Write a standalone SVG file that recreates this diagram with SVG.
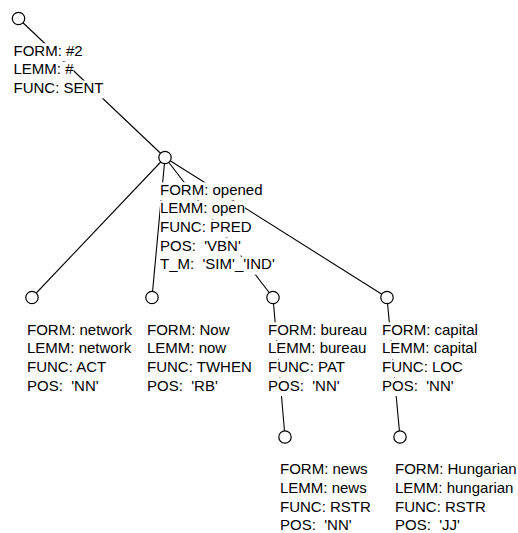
<svg xmlns="http://www.w3.org/2000/svg" width="518" height="533" viewBox="0 0 518 533">
<style>
.bg{fill:#fff;stroke:none}
.t{font-family:"Liberation Sans",Arial,Helvetica,sans-serif;font-size:15px;fill:#000;white-space:pre}
.n{fill:#fff;stroke:#000;stroke-width:1.2}
.e{stroke:#000;stroke-width:1.1;fill:none}
</style>
<rect width="518" height="533" fill="#fff"/>
<g id="connectors">
<line class="e" x1="18.5" y1="18.5" x2="165" y2="157.5"/>
<line class="e" x1="165" y1="157.5" x2="32" y2="297.5"/>
<line class="e" x1="165" y1="157.5" x2="152" y2="297.5"/>
<line class="e" x1="165" y1="157.5" x2="273" y2="297.5"/>
<line class="e" x1="165" y1="157.5" x2="387" y2="297.5"/>
<line class="e" x1="273" y1="297.5" x2="285" y2="437"/>
<line class="e" x1="387" y1="297.5" x2="400" y2="437"/>
</g>
<g id="node-root">
<rect class="bg" x="13.5" y="43.3" width="69.2" height="18"/>
<rect class="bg" x="13.5" y="61.9" width="60" height="18"/>
<rect class="bg" x="13.5" y="80.5" width="90" height="18"/>
<text class="t" x="13.5" y="55.8">FORM: #2</text>
<text class="t" x="13.5" y="74.4">LEMM: #</text>
<text class="t" x="13.5" y="93">FUNC: SENT</text>
<circle class="n" cx="18.5" cy="18.5" r="6.2"/>
</g>
<g id="node-opened">
<rect class="bg" x="160" y="182.3" width="102.5" height="18"/>
<rect class="bg" x="160" y="200.9" width="85" height="18"/>
<rect class="bg" x="160" y="219.5" width="91.7" height="18"/>
<rect class="bg" x="160" y="238.1" width="80.8" height="18"/>
<rect class="bg" x="160" y="256.7" width="114.8" height="18"/>
<text class="t" x="160" y="194.8">FORM: opened</text>
<text class="t" x="160" y="213.4">LEMM: open</text>
<text class="t" x="160" y="232">FUNC: PRED</text>
<text class="t" x="160" y="250.6">POS:  'VBN'</text>
<text class="t" x="160" y="269.2">T_M:  'SIM'_'IND'</text>
<circle class="n" cx="165" cy="157.5" r="6.2"/>
</g>
<g id="node-network">
<rect class="bg" x="27" y="322.3" width="105" height="18"/>
<rect class="bg" x="27" y="340.9" width="104.2" height="18"/>
<rect class="bg" x="27" y="359.5" width="80" height="18"/>
<rect class="bg" x="27" y="378.1" width="71.6" height="18"/>
<text class="t" x="27" y="334.8">FORM: network</text>
<text class="t" x="27" y="353.4">LEMM: network</text>
<text class="t" x="27" y="372">FUNC: ACT</text>
<text class="t" x="27" y="390.6">POS:  'NN'</text>
<circle class="n" cx="32" cy="297.5" r="6.2"/>
</g>
<g id="node-now">
<rect class="bg" x="147" y="322.3" width="82.5" height="18"/>
<rect class="bg" x="147" y="340.9" width="79.2" height="18"/>
<rect class="bg" x="147" y="359.5" width="105" height="18"/>
<rect class="bg" x="147" y="378.1" width="70.8" height="18"/>
<text class="t" x="147" y="334.8">FORM: Now</text>
<text class="t" x="147" y="353.4">LEMM: now</text>
<text class="t" x="147" y="372">FUNC: TWHEN</text>
<text class="t" x="147" y="390.6">POS:  'RB'</text>
<circle class="n" cx="152" cy="297.5" r="6.2"/>
</g>
<g id="node-bureau">
<rect class="bg" x="268" y="322.3" width="99.2" height="18"/>
<rect class="bg" x="268" y="340.9" width="98.4" height="18"/>
<rect class="bg" x="268" y="359.5" width="79.2" height="18"/>
<rect class="bg" x="268" y="378.1" width="71.6" height="18"/>
<text class="t" x="268" y="334.8">FORM: bureau</text>
<text class="t" x="268" y="353.4">LEMM: bureau</text>
<text class="t" x="268" y="372">FUNC: PAT</text>
<text class="t" x="268" y="390.6">POS:  'NN'</text>
<circle class="n" cx="273" cy="297.5" r="6.2"/>
</g>
<g id="node-capital">
<rect class="bg" x="382" y="322.3" width="95.9" height="18"/>
<rect class="bg" x="382" y="340.9" width="95" height="18"/>
<rect class="bg" x="382" y="359.5" width="80.8" height="18"/>
<rect class="bg" x="382" y="378.1" width="71.6" height="18"/>
<text class="t" x="382" y="334.8">FORM: capital</text>
<text class="t" x="382" y="353.4">LEMM: capital</text>
<text class="t" x="382" y="372">FUNC: LOC</text>
<text class="t" x="382" y="390.6">POS:  'NN'</text>
<circle class="n" cx="387" cy="297.5" r="6.2"/>
</g>
<g id="node-news">
<rect class="bg" x="280" y="461.8" width="87.5" height="18"/>
<rect class="bg" x="280" y="480.4" width="86.7" height="18"/>
<rect class="bg" x="280" y="499" width="90.8" height="18"/>
<rect class="bg" x="280" y="517.6" width="71.6" height="15.4"/>
<text class="t" x="280" y="474.3">FORM: news</text>
<text class="t" x="280" y="492.9">LEMM: news</text>
<text class="t" x="280" y="511.5">FUNC: RSTR</text>
<text class="t" x="280" y="530.1">POS:  'NN'</text>
<circle class="n" cx="285" cy="437" r="6.2"/>
</g>
<g id="node-hungarian">
<rect class="bg" x="395" y="461.8" width="121.7" height="18"/>
<rect class="bg" x="395" y="480.4" width="118.4" height="18"/>
<rect class="bg" x="395" y="499" width="90.8" height="18"/>
<rect class="bg" x="395" y="517.6" width="64.9" height="15.4"/>
<text class="t" x="395" y="474.3">FORM: Hungarian</text>
<text class="t" x="395" y="492.9">LEMM: hungarian</text>
<text class="t" x="395" y="511.5">FUNC: RSTR</text>
<text class="t" x="395" y="530.1">POS:  'JJ'</text>
<circle class="n" cx="400" cy="437" r="6.2"/>
</g>
</svg>
